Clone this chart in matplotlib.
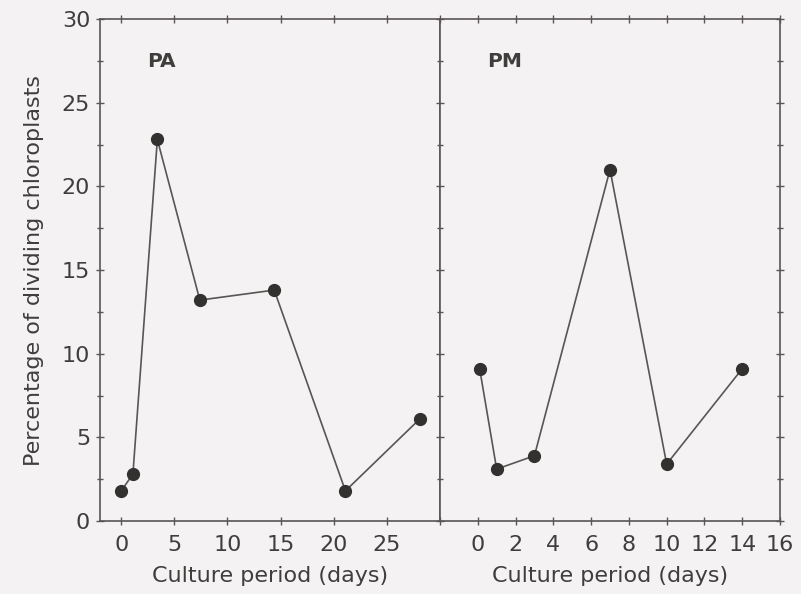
import matplotlib

matplotlib.use("Agg")
import matplotlib.pyplot as plt
from matplotlib.ticker import MultipleLocator

# percentage of dividing chloroplasts vs culture period (days)
pa_days = [0, 1.1, 3.4, 7.4, 14.4, 21.1, 28.1]
pa_pct = [1.8, 2.8, 22.8, 13.2, 13.8, 1.8, 6.1]

pm_days = [0.1, 1.0, 3.0, 7.0, 10.0, 14.0]
pm_pct = [9.1, 3.1, 3.9, 21.0, 3.4, 9.1]

pa_xticks = [0, 5, 10, 15, 20, 25]
pm_xticks = [0, 2, 4, 6, 8, 10, 12, 14, 16]
y_ticks = [0, 5, 10, 15, 20, 25, 30]

BG = "#f4f2f2"
INK = "#403d3d"
LINE = "#5a5555"
DOT = "#333030"

plt.rcParams["font.family"] = ["DejaVu Sans"]

fig = plt.figure(figsize=(8.01, 5.94), dpi=100, facecolor=BG)
ax1 = fig.add_axes([0.1248, 0.1229, 0.4245, 0.8451])
ax2 = fig.add_axes([0.5493, 0.1229, 0.4245, 0.8451], sharey=ax1)

for ax, xs, ys, lab in [(ax1, pa_days, pa_pct, "PA"), (ax2, pm_days, pm_pct, "PM")]:
    ax.set_facecolor(BG)
    ax.plot(xs, ys, color=LINE, linewidth=1.2, zorder=2)
    ax.plot(xs, ys, linestyle="none", marker="o", markersize=8.5,
            markerfacecolor=DOT, markeredgecolor=DOT, zorder=3)
    ax.text(0.14, 0.915, lab, transform=ax.transAxes, fontsize=14.5,
            fontweight="bold", color=INK, va="center", ha="left")
    ax.set_xlabel("Culture period (days)", fontsize=16, color=INK, labelpad=8)
    for s in ax.spines.values():
        s.set_color(LINE)
        s.set_linewidth(1.2)
    ax.tick_params(which="both", direction="inout", colors=LINE, labelcolor=INK,
                   labelsize=16, top=True, width=1.0)
    ax.tick_params(which="major", length=6)
    ax.tick_params(which="minor", length=5)
    ax.tick_params(axis="x", pad=7)
    ax.tick_params(axis="y", pad=4)

ax1.set_xlim(-2, 30)
ax1.set_xticks(pa_xticks)
ax1.set_ylim(0, 30)
ax1.set_yticks(y_ticks)
ax1.yaxis.set_minor_locator(MultipleLocator(2.5))
ax1.set_ylabel("Percentage of dividing chloroplasts", fontsize=16, color=INK, labelpad=13)
ax1.tick_params(which="both", right=False)

ax2.set_xlim(-2, 16)
ax2.set_xticks(pm_xticks + [-2])
ax2.set_xticklabels([str(t) for t in pm_xticks] + [""])
ax2.tick_params(which="both", left=True, right=True, labelleft=False)

fig.savefig("out.png", dpi=100, facecolor=BG)
